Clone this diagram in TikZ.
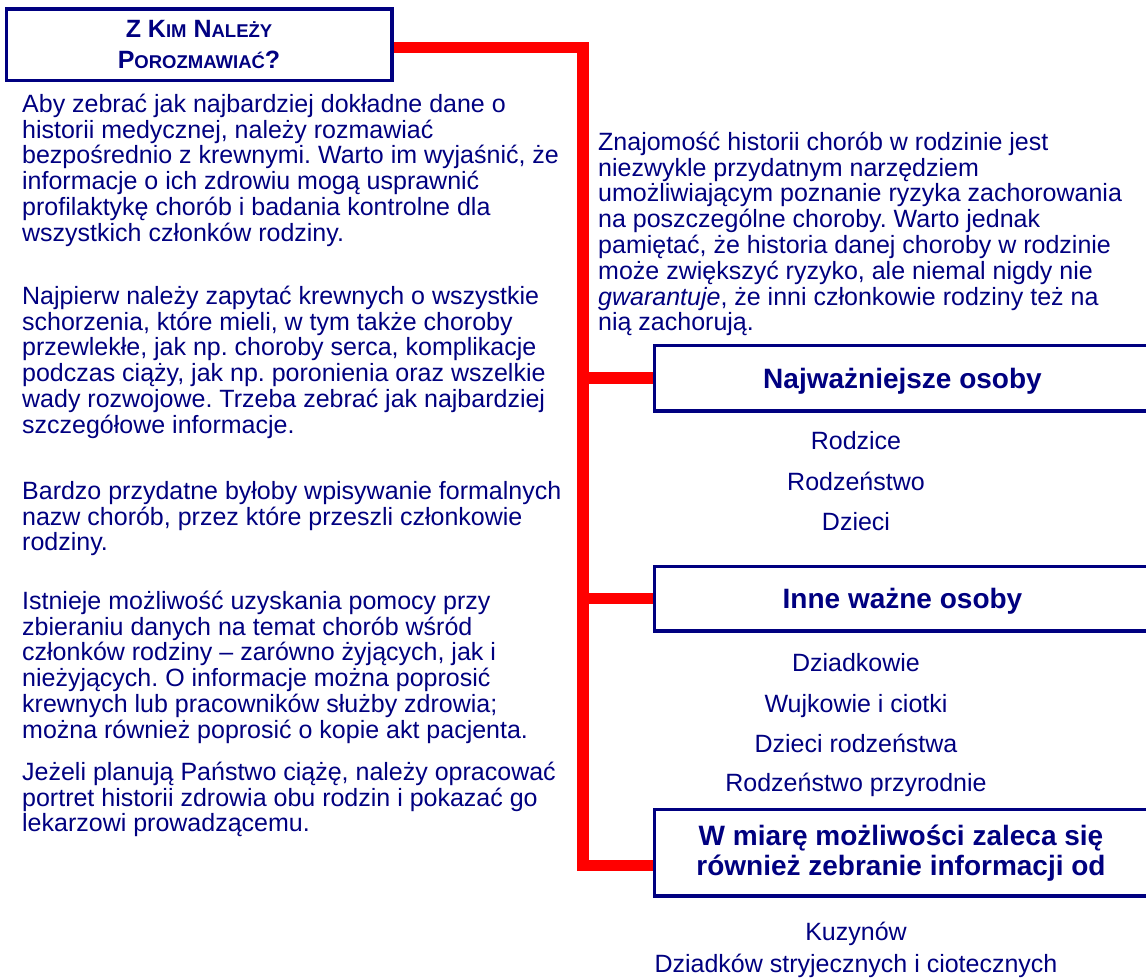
\documentclass[tikz,border=0pt]{standalone}
\usepackage{fontspec}
\setmainfont{Liberation Sans}
\frenchspacing
\definecolor{navy}{HTML}{000080}
\definecolor{redline}{HTML}{FF0000}
\newcommand\smc[1]{{\fontsize{18.5}{18.5}\selectfont #1}}
\newcommand\topstrut{\rule{0pt}{20pt}}
\tikzset{
  para/.style={anchor=north west, inner sep=0pt, align=left, text=navy,
    font=\fontsize{25}{25.8}\selectfont},
  listitem/.style={anchor=base, inner sep=0pt, text=navy,
    font=\fontsize{25}{25.8}\selectfont},
  boxhead/.style={draw=navy, line width=2.5pt, text=navy, inner sep=0pt,
    font=\bfseries\fontsize{28}{30}\selectfont},
  connector/.style={draw=redline, line width=11.5pt, line join=miter},
}
\begin{document}
\begin{tikzpicture}[x=1pt,y=-1pt]
\useasboundingbox (0,0) rectangle (1146,979);

% boxes
\node[boxhead, minimum width=384pt, minimum height=70pt] (title) at (199,45) {};
\node[boxhead, minimum width=495pt, minimum height=64pt,
      text height=22pt, text depth=2pt] (b1) at (902.5,378) {Najważniejsze osoby};
\node[boxhead, minimum width=495pt, minimum height=63pt,
      text height=22pt, text depth=2pt] (b2) at (902.5,598.5) {Inne ważne osoby};
\node[boxhead, minimum width=495pt, minimum height=85pt] (b3) at (902.5,852.5) {};

% red connectors
\coordinate (sb) at (583,865.5);
\draw[connector] ([yshift=-2.5pt]title.east) -| (sb) -- (sb -| b3.west);
\draw[connector] ([xshift=-6pt]b1.west -| sb) -- (b1.west);
\draw[connector] ([xshift=-6pt]b2.west -| sb) -- (b2.west);

% redraw box borders over connectors
\draw[navy, line width=2.5pt] (b1.north east) -- (b1.north west) -- (b1.south west) -- (b1.south east);
\draw[navy, line width=2.5pt] (b2.north east) -- (b2.north west) -- (b2.south west) -- (b2.south east);
\draw[navy, line width=2.5pt] (b3.north east) -- (b3.north west) -- (b3.south west) -- (b3.south east);
\draw[navy, line width=2.5pt] (title.north west) rectangle (title.south east);

% title text
\node[anchor=north, inner sep=0pt, align=center, text=navy,
      font=\bfseries\fontsize{25}{30.3}\selectfont] (titletext) at (199,18.7)
  {\rule{0pt}{19pt}Z K\smc{IM} N\smc{ALEŻY}\\P\smc{OROZMAWIAĆ}?};

% box 3 text
\node[anchor=north, inner sep=0pt, align=center, text=navy,
      font=\bfseries\fontsize{28}{30}\selectfont] (b3text) at (901,823)
  {\rule{0pt}{22pt}W miarę możliwości zaleca się\\również zebranie informacji od};

% left column
\node[para] (p1) at (22,92)
 {\topstrut Aby zebrać jak najbardziej dokładne dane o\\
  historii medycznej, należy rozmawiać\\
  bezpośrednio z krewnymi. Warto im wyjaśnić, że\\
  informacje o ich zdrowiu mogą usprawnić\\
  profilaktykę chorób i badania kontrolne dla\\
  wszystkich członków rodziny.};
\node[para] (p2) at (22,284)
 {\topstrut Najpierw należy zapytać krewnych o wszystkie\\
  schorzenia, które mieli, w tym także choroby\\
  przewlekłe, jak np. choroby serca, komplikacje\\
  podczas ciąży, jak np. poronienia oraz wszelkie\\
  wady rozwojowe. Trzeba zebrać jak najbardziej\\
  szczegółowe informacje.};
\node[para] (p3) at (22,479)
 {\topstrut Bardzo przydatne byłoby wpisywanie formalnych\\
  nazw chorób, przez które przeszli członkowie\\
  rodziny.};
\node[para] (p4) at (22,589)
 {\topstrut Istnieje możliwość uzyskania pomocy przy\\
  zbieraniu danych na temat chorób wśród\\
  członków rodziny – zarówno żyjących, jak i\\
  nieżyjących. O informacje można poprosić\\
  krewnych lub pracowników służby zdrowia;\\
  można również poprosić o kopie akt pacjenta.};
\node[para] (p5) at (22,760)
 {\topstrut Jeżeli planują Państwo ciążę, należy opracować\\
  portret historii zdrowia obu rodzin i pokazać go\\
  lekarzowi prowadzącemu.};

% right column
\node[para] (r1) at (598,130)
 {\topstrut Znajomość historii chorób w rodzinie jest\\
  niezwykle przydatnym narzędziem\\
  umożliwiającym poznanie ryzyka zachorowania\\
  na poszczególne choroby. Warto jednak\\
  pamiętać, że historia danej choroby w rodzinie\\
  może zwiększyć ryzyko, ale niemal nigdy nie\\
  \textit{gwarantuje}, że inni członkowie rodziny też na\\
  nią zachorują.};

% lists
\node[listitem] (l1) at (856,449) {Rodzice};
\node[listitem] (l2) at (856,490) {Rodzeństwo};
\node[listitem] (l3) at (856,530) {Dzieci};
\node[listitem] (l4) at (856,671) {Dziadkowie};
\node[listitem] (l5) at (856,712) {Wujkowie i ciotki};
\node[listitem] (l6) at (856,752) {Dzieci rodzeństwa};
\node[listitem] (l7) at (856,791) {Rodzeństwo przyrodnie};
\node[listitem] (l8) at (856,940) {Kuzynów};
\node[listitem] (l9) at (856,972) {Dziadków stryjecznych i ciotecznych};
\end{tikzpicture}
\end{document}
